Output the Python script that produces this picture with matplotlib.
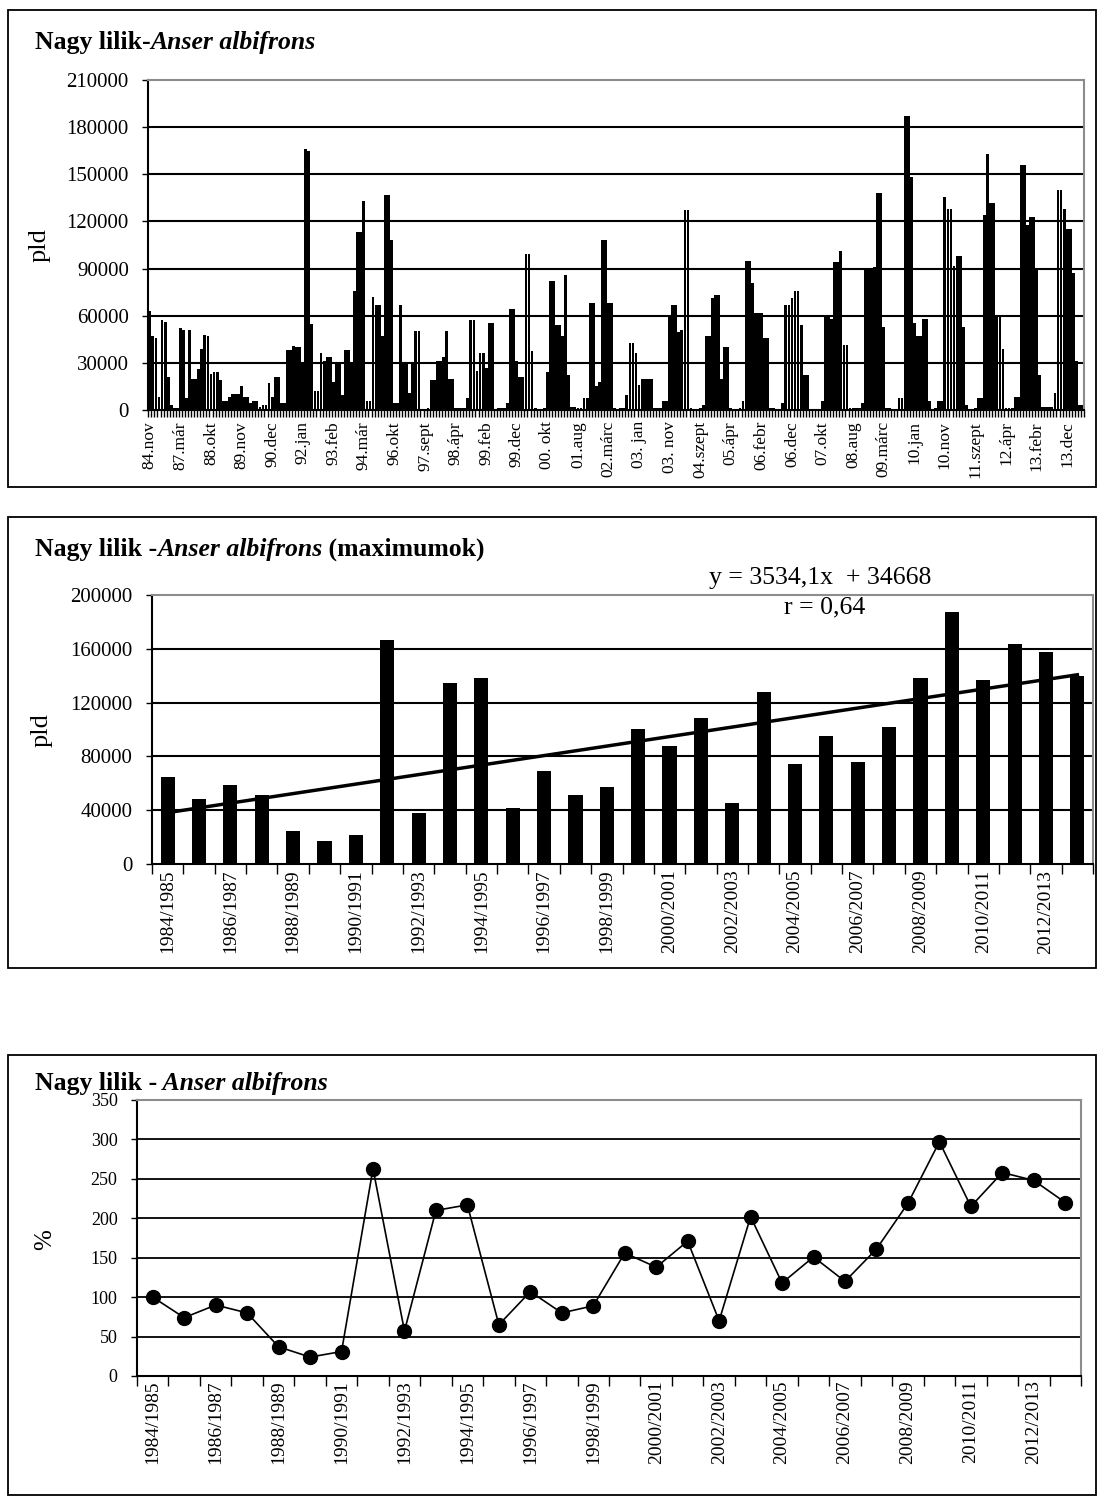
import matplotlib
matplotlib.use("Agg")
import matplotlib.pyplot as plt
import numpy as np
from matplotlib.patches import Rectangle

plt.rcParams['font.family'] = ['Liberation Serif', 'DejaVu Serif']

W, H = 1097, 1499  # figure size in pixels

# monthly counts (thousands of birds)
counts_k = [
    63, 47, 46, 8.5, 57, 56, 21, 3.4, 1.3, 1.0,
    52, 51, 7.4, 51, 20, 20, 26, 39, 48, 47,
    23, 24, 24, 19, 6, 6, 8.5, 10, 10, 10,
    15, 8.5, 8.5, 4.5, 6, 6, 2, 3.4, 3.4, 17,
    8.5, 21, 21, 4.5, 4.5, 38, 38, 41, 40, 40,
    30, 166, 165, 55, 12, 12, 36, 31, 34, 34,
    18, 30, 30, 9.5, 38, 38, 30, 76, 113, 113,
    133, 6, 6, 72, 67, 67, 47, 137, 137, 108,
    4.7, 4.7, 67, 30, 30, 11, 30, 50, 50, 0,
    0, 1, 19, 19, 31, 31, 34, 50, 20, 20,
    1, 1, 1, 1, 7.4, 57, 57, 25, 36.5, 36.5,
    26.5, 55.5, 55.5, 0, 1, 1, 1, 4.5, 64, 64,
    31.5, 21, 21, 99, 99, 37.6, 1, 0, 0, 1,
    24, 82, 82, 54, 54, 47, 86, 22.5, 2, 2,
    1, 1, 7.4, 7.4, 68, 68, 15, 17.6, 108, 108,
    68, 68, 1, 0, 1, 1, 9.5, 42.5, 42.5, 36.5,
    16, 20, 20, 20, 20, 1, 1, 1, 6, 6,
    60.6, 67, 67, 49.5, 50.6, 127, 127, 1, 0, 0,
    1, 3.4, 47, 47, 71, 73, 73, 20, 40, 40,
    1, 0, 0, 1, 6, 95, 95, 81, 61.7, 61.7,
    61.7, 46, 46, 1, 1, 0, 0, 4.5, 67, 67,
    71, 76, 76, 54, 22.5, 22.5, 0, 0, 0, 0,
    6, 60, 60, 58, 94, 94, 101, 41.5, 41.5, 1,
    1, 1, 1, 4.5, 89.5, 90, 90, 91, 138, 138,
    53, 1, 1, 0, 0, 7.4, 7.4, 187, 187, 148,
    55.5, 47, 47, 58, 58, 6, 0, 1, 6, 6,
    135.6, 128, 128, 91.4, 97.8, 97.8, 53, 3.4, 0, 0,
    1, 7.4, 7.4, 124, 162.6, 132, 132, 60, 60, 39,
    1, 1, 1, 8.5, 8.5, 156, 156, 118, 123, 123,
    90, 22.5, 2, 2, 2, 2, 10.6, 140, 140, 128,
    115, 115, 87, 31.5, 3.4, 3.4,
]
counts = np.array(counts_k) * 1000

# every 10th bar gets a label
month_labels = ['84.nov', '87.már', '88.okt', '89.nov', '90.dec', '92.jan', '93.feb',
                '94.már', '96.okt', '97.sept', '98.ápr', '99.feb', '99.dec', '00. okt',
                '01.aug', '02.márc', '03. jan', '03. nov', '04.szept', '05.ápr',
                '06.febr', '06.dec', '07.okt', '08.aug', '09.márc', '10.jan', '10.nov',
                '11.szept', '12.ápr', '13.febr', '13.dec']

seasons = ['1984/1985', '1985/1986', '1986/1987', '1987/1988', '1988/1989', '1989/1990',
           '1990/1991', '1991/1992', '1992/1993', '1993/1994', '1994/1995', '1995/1996',
           '1996/1997', '1997/1998', '1998/1999', '1999/2000', '2000/2001', '2001/2002',
           '2002/2003', '2003/2004', '2004/2005', '2005/2006', '2006/2007', '2007/2008',
           '2008/2009', '2009/2010', '2010/2011', '2011/2012', '2012/2013', '2013/2014']

# seasonal maxima
maxima = [64400, 48300, 58700, 51000, 24500, 17300, 21300, 166600, 37900, 134400,
          138600, 42000, 68800, 51200, 56900, 100200, 88100, 108900, 45300, 128200,
          74700, 95500, 76200, 101500, 138600, 187400, 137100, 163600, 157900, 139800]

# linear trend given on the chart
slope, intercept = 3534.1, 34668

# maxima as % of the first season
percent = [100, 74, 90, 80, 37, 24, 31, 263, 57, 210, 217, 65, 107, 80, 89,
           156, 138, 171, 70, 202, 118, 151, 120, 161, 219, 297, 215, 258, 248, 220]

TITLE_SIZE = 18.5
fig = plt.figure(figsize=(W / 100, H / 100), dpi=100)


def px_axes(left, top, right, bottom):
    return fig.add_axes([left / W, 1 - bottom / H, (right - left) / W, (bottom - top) / H])


def fx(x):
    return x / W


def fy(y):
    return 1 - y / H


def style_axes(ax, yticks, ylabsize, gridlw=1.5):
    ax.set_yticks(yticks)
    ax.tick_params(axis='y', which='major', length=4, width=1, labelsize=ylabsize, pad=10)
    for v in yticks[1:-1]:
        ax.axhline(v, color='black', lw=gridlw, zorder=0.5)
    for s in ['left', 'bottom']:
        ax.spines[s].set_color('black')
        ax.spines[s].set_linewidth(1.5)
    for s in ['top', 'right']:
        ax.spines[s].set_color('#8c8c8c')
        ax.spines[s].set_linewidth(1.5)


def title(x, y, parts, ax, size=TITLE_SIZE):
    t = fig.text(fx(x), fy(y), parts[0][0], fontsize=size, fontweight='bold',
                 style=parts[0][1], va='baseline', ha='left')
    for text, st in parts[1:]:
        t = ax.annotate(text, xy=(1, 0), xycoords=t, va='bottom', ha='left',
                        fontsize=size, fontweight='bold', style=st)


# panel frames
for x0, y0, x1, y1 in [(8, 10, 1096, 487), (8, 517, 1096, 968), (8, 1055, 1096, 1495)]:
    fig.patches.append(Rectangle((fx(x0), fy(y1)), (x1 - x0) / W, (y1 - y0) / H,
                                 transform=fig.transFigure, fill=False, ec='black', lw=1.3))

# ---- top: all counts
ax1 = px_axes(148.3, 80, 1084, 410)
x = np.arange(len(counts))
ax1.bar(x, counts, width=0.92, color='black', linewidth=0, zorder=2)
ax1.set_xlim(-0.5, len(counts) - 0.5)
ax1.set_ylim(0, 210000)
style_axes(ax1, list(range(0, 210001, 30000)), 15)
ax1.set_xticks(np.arange(0, len(counts), 10))
ax1.set_xticklabels(month_labels, rotation=90, fontsize=12.5)
ax1.set_xticks(np.arange(-0.5, len(counts)), minor=True)
ax1.tick_params(axis='x', which='major', length=0, pad=8)
ax1.tick_params(axis='x', which='minor', length=5, width=1)
fig.text(fx(40), fy(245), 'pld', rotation=90, fontsize=19, ha='center', va='center')
title(35, 49, [('Nagy lilik-', 'normal'), ('Anser albifrons', 'italic')], ax1)

# ---- middle: seasonal maxima with trend
ax2 = px_axes(152, 595, 1093, 864)
xs = np.arange(1, len(maxima) + 1)
ax2.bar(xs, maxima, width=0.45, color='black', linewidth=0, zorder=2)
ends = np.array([xs[0], xs[-1]])
ax2.plot(ends, slope * ends + intercept, color='black', lw=2.5, zorder=3)
ax2.set_xlim(0.5, len(maxima) + 0.5)
ax2.set_ylim(0, 200000)
style_axes(ax2, list(range(0, 200001, 40000)), 15)
ax2.set_xticks(xs[::2])
ax2.set_xticklabels(seasons[::2], rotation=90, fontsize=14)
ax2.set_xticks(np.arange(0.5, len(maxima) + 1), minor=True)
ax2.tick_params(axis='x', which='major', length=0, pad=4)
ax2.tick_params(axis='x', which='minor', length=7, width=1)
fig.text(fx(42), fy(730), 'pld', rotation=90, fontsize=19, ha='center', va='center')
title(35, 556, [('Nagy lilik -', 'normal'), ('Anser albifrons', 'italic'),
                (' (maximumok)', 'normal')], ax2)
fig.text(fx(820), fy(578), 'y = 3534,1x  + 34668', fontsize=18.5, ha='center', va='center')
fig.text(fx(825), fy(607), 'r = 0,64', fontsize=18.5, ha='center', va='center')

# ---- bottom: percentage of first season
ax3 = px_axes(137, 1100, 1081, 1376)
ax3.plot(xs, percent, '-o', color='black', lw=1.2, markersize=10, zorder=3, clip_on=False)
ax3.set_xlim(0.5, len(percent) + 0.5)
ax3.set_ylim(0, 350)
style_axes(ax3, list(range(0, 351, 50)), 13, gridlw=1.3)
ax3.set_xticks(xs[::2])
ax3.set_xticklabels(seasons[::2], rotation=90, fontsize=14)
ax3.set_xticks(np.arange(0.5, len(percent) + 1), minor=True)
ax3.tick_params(axis='x', which='major', length=0, pad=3)
ax3.tick_params(axis='x', which='minor', length=7, width=1)
fig.text(fx(45), fy(1240), '%', rotation=90, fontsize=18, ha='center', va='center')
title(35, 1090, [('Nagy lilik -', 'normal'), (' Anser albifrons', 'italic')], ax3)

fig.savefig('out.png', dpi=100)
